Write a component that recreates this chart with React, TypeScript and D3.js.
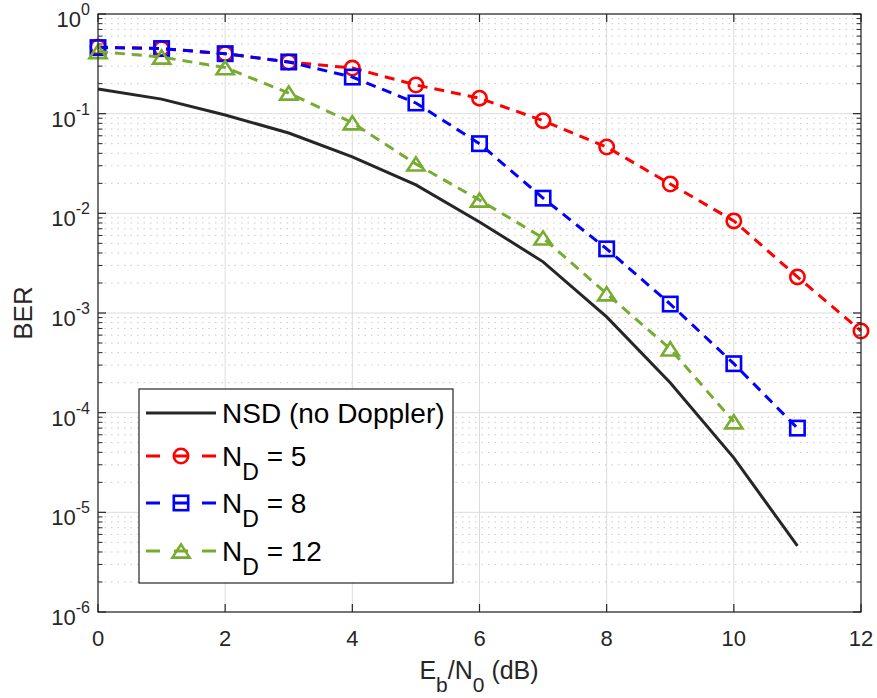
import React from "react";
import * as d3 from "d3";

const snr = [0, 1, 2, 3, 4, 5, 6, 7, 8, 9, 10, 11, 12];
const berNSD = [0.177, 0.14, 0.097, 0.064, 0.0368, 0.0193, 0.0082, 0.00326, 0.000914, 0.0002, 0.0000352, 0.0000046];
const berND5 = [0.467, 0.45, 0.4, 0.33, 0.287, 0.194, 0.143, 0.085, 0.0463, 0.0197, 0.0084, 0.0023, 0.00066];
const berND8 = [0.46, 0.45, 0.4, 0.33, 0.233, 0.128, 0.05, 0.0142, 0.0044, 0.00123, 0.00031, 0.00007];
const berND12 = [0.42, 0.37, 0.29, 0.161, 0.081, 0.0313, 0.0136, 0.00566, 0.00156, 0.000437, 0.000081];
const xTicks = [0, 2, 4, 6, 8, 10, 12];
const yExps = [0, -1, -2, -3, -4, -5, -6];

const W = 877, H = 698;
const L = 98, R = 861, T = 14, B = 612;
const FONT = "'Liberation Sans', Arial, Helvetica, sans-serif";
const AX = "#262626";
const GREEN = "#77AC30";

type Series = { name: string; sub?: string; vals: number[]; color: string; dash?: string; marker?: string };

const series: Series[] = [
  { name: "NSD (no Doppler)", vals: berNSD, color: "#262626" },
  { name: "N", sub: "5", vals: berND5, color: "#ff0000", dash: "10,7", marker: "circle" },
  { name: "N", sub: "8", vals: berND8, color: "#0000ff", dash: "10,7", marker: "square" },
  { name: "N", sub: "12", vals: berND12, color: GREEN, dash: "10,7", marker: "triangle" },
];

function Marker({ type, x, y, color }: { type?: string; x: number; y: number; color: string }) {
  if (!type) return null;
  const sw = 2.6;
  if (type === "circle") return <circle cx={x} cy={y} r={7.2} fill="none" stroke={color} strokeWidth={sw} />;
  if (type === "square") return <rect x={x - 7.2} y={y - 7.2} width={14.4} height={14.4} fill="none" stroke={color} strokeWidth={sw} />;
  const hw = 8.6, hh = 6.6;
  return <path d={`M${x},${y - hh}L${x + hw},${y + hh}L${x - hw},${y + hh}Z`} fill="none" stroke={color} strokeWidth={sw} strokeLinejoin="miter" />;
}

export default function App() {
  const x = d3.scaleLinear().domain([0, 12]).range([L, R]);
  const y = d3.scaleLog().domain([1e-6, 1]).range([B, T]);
  const line = d3.line<number>().x((_, i) => x(snr[i])).y((d) => y(d));

  const minor: number[] = [];
  for (let e = -6; e < 0; e++) for (let k = 2; k <= 9; k++) minor.push(k * Math.pow(10, e));

  const legX = 139, legY = 389, legW = 314, legH = 194;
  const rowY = [413, 456, 503, 551];

  return (
    <svg width={W} height={H} style={{ position: "absolute", left: 0, top: 0, background: "#fff" }} fontFamily={FONT}>
      <rect x={0} y={0} width={W} height={H} fill="#fff" />
      {/* minor grid */}
      {minor.map((v, i) => (
        <line key={"mg" + i} x1={L} x2={R} y1={y(v)} y2={y(v)} stroke="#c8c8c8" strokeWidth={1} strokeDasharray="1.5,5" />
      ))}
      {/* major grid */}
      {yExps.map((e) => (
        <line key={"yg" + e} x1={L} x2={R} y1={y(Math.pow(10, e))} y2={y(Math.pow(10, e))} stroke="#dcdcdc" strokeWidth={1} />
      ))}
      {xTicks.map((t) => (
        <line key={"xg" + t} x1={x(t)} x2={x(t)} y1={T} y2={B} stroke="#dcdcdc" strokeWidth={1} />
      ))}
      {/* series */}
      {series.map((s, si) => (
        <g key={"s" + si}>
          <path d={line(s.vals) || ""} fill="none" stroke={s.color} strokeWidth={3} strokeDasharray={s.dash} />
          {s.vals.map((v, i) => (
            <Marker key={i} type={s.marker} x={x(snr[i])} y={y(v)} color={s.color} />
          ))}
        </g>
      ))}
      {/* axes box */}
      <rect x={L} y={T} width={R - L} height={B - T} fill="none" stroke={AX} strokeWidth={1.2} />
      {/* x ticks */}
      {xTicks.map((t) => (
        <g key={"xt" + t}>
          <line x1={x(t)} x2={x(t)} y1={B} y2={B - 8} stroke={AX} strokeWidth={1.2} />
          <line x1={x(t)} x2={x(t)} y1={T} y2={T + 8} stroke={AX} strokeWidth={1.2} />
          <text x={x(t)} y={646} textAnchor="middle" fontSize={22} fill={AX}>{t}</text>
        </g>
      ))}
      {/* y ticks */}
      {yExps.map((e) => (
        <g key={"yt" + e}>
          <line x1={L} x2={L + 8} y1={y(Math.pow(10, e))} y2={y(Math.pow(10, e))} stroke={AX} strokeWidth={1.2} />
          <line x1={R} x2={R - 8} y1={y(Math.pow(10, e))} y2={y(Math.pow(10, e))} stroke={AX} strokeWidth={1.2} />
          <text x={90} y={y(Math.pow(10, e)) + 13} textAnchor="end" fontSize={22} fill={AX}>
            10<tspan fontSize={16} dy={-12}>{e}</tspan>
          </text>
        </g>
      ))}
      {minor.map((v, i) => (
        <g key={"mt" + i}>
          <line x1={L} x2={L + 4.5} y1={y(v)} y2={y(v)} stroke={AX} strokeWidth={1} />
          <line x1={R} x2={R - 4.5} y1={y(v)} y2={y(v)} stroke={AX} strokeWidth={1} />
        </g>
      ))}
      {/* axis labels */}
      <text x={479} y={679} textAnchor="middle" fontSize={25} fill={AX}>
        E<tspan fontSize={21} dy={13}>b</tspan><tspan dy={-13}>/N</tspan><tspan fontSize={21} dy={13}>0</tspan><tspan dy={-13}> (dB)</tspan>
      </text>
      <text transform={`translate(32,${(T + B) / 2}) rotate(-90)`} textAnchor="middle" fontSize={26} fill={AX}>BER</text>
      {/* legend */}
      <rect x={legX} y={legY} width={legW} height={legH} fill="#fff" stroke={AX} strokeWidth={1.2} />
      {series.map((s, si) => (
        <g key={"lg" + si}>
          <line x1={146} x2={216} y1={rowY[si]} y2={rowY[si]} stroke={s.color} strokeWidth={3} strokeDasharray={s.dash ? "14,14" : undefined} />
          <Marker type={s.marker} x={181} y={rowY[si]} color={s.color} />
          <text x={222} y={rowY[si] + 10} fontSize={28} fill="#000">
            {s.sub ? (
              <>
                N<tspan fontSize={23} dy={14}>D</tspan><tspan dy={-14}>{" = " + s.sub}</tspan>
              </>
            ) : (
              s.name
            )}
          </text>
        </g>
      ))}
    </svg>
  );
}
